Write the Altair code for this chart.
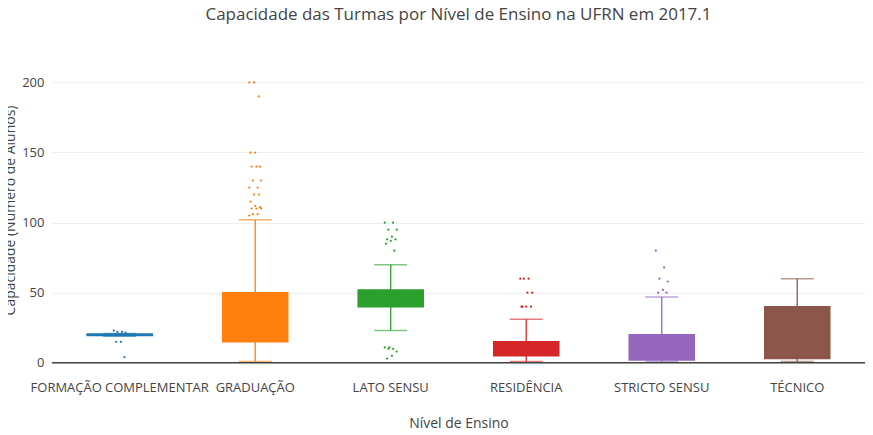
import pandas as pd
import altair as alt

niveis = ["FORMAÇÃO COMPLEMENTAR", "GRADUAÇÃO", "LATO SENSU", "RESIDÊNCIA", "STRICTO SENSU", "TÉCNICO"]
q1 = [19.5, 15, 40, 5, 2, 3]
mediana = [20, 32, 50, 8, 10, 39]
q3 = [20.5, 50, 52, 15, 20, 40]
min_bigode = [19, 1, 23, 1, 1, 1]
max_bigode = [21, 102, 70, 31, 47, 60]
linhas = ["#1f77b4", "#ff7f0e", "#2ca02c", "#d62728", "#9467bd", "#8c564b"]
preench = ["#8fbbd9", "#fec88e", "#94cfad", "#fd9a9a", "#e4b9fd", "#bcae7f"]

outliers = {
    "FORMAÇÃO COMPLEMENTAR": [23, 22, 22, 21.5, 15, 15, 4],
    "GRADUAÇÃO": [105, 106, 106, 110, 110, 110, 111, 112, 115, 120, 120, 125, 125, 130, 130, 140, 140, 140, 150, 150, 190, 200, 200],
    "LATO SENSU": [100, 100, 95, 95, 90, 88, 88, 87, 85, 80, 11, 11, 10, 10, 8, 5, 3],
    "RESIDÊNCIA": [60, 60, 60, 50, 50, 40, 40, 40, 40],
    "STRICTO SENSU": [80, 68, 60, 58, 52, 50, 50],
    "TÉCNICO": [],
}

caixas = pd.DataFrame({"nivel": niveis, "q1": q1, "mediana": mediana, "q3": q3,
                       "lo": min_bigode, "hi": max_bigode})
pontos = pd.DataFrame([
    {"nivel": k, "valor": v, "desloc": ((i * 7) % 11 - 5) * 2.2}
    for k, vs in outliers.items() for i, v in enumerate(vs)
])

cor_linha = alt.Color("nivel:N", scale=alt.Scale(domain=niveis, range=linhas), legend=None)
cor_fill = alt.Color("nivel:N", scale=alt.Scale(domain=niveis, range=preench), legend=None)
ydom = alt.Scale(domain=[-5, 223], nice=False, zero=False)
x = alt.X("nivel:N", sort=niveis, scale=alt.Scale(paddingInner=0.52, paddingOuter=0.26),
          title="Nível de Ensino",
          axis=alt.Axis(labelAngle=0, labelFontSize=13, labelColor="#444", titleFontSize=14,
                        titleColor="#444", titleFontWeight="normal", titlePadding=22,
                        ticks=False, domain=False, labelPadding=12))
y = alt.Y("lo:Q", scale=ydom, title="Capacidade (Número de Alunos)",
          axis=alt.Axis(values=[0, 50, 100, 150, 200], labelFontSize=13, labelColor="#444",
                        titleFontSize=14, titleColor="#444", titleFontWeight="normal",
                        gridColor="#eeeeee", ticks=False, domain=False, labelPadding=8))

base = alt.Chart(caixas)
bigode = base.mark_rule(strokeWidth=1.3).encode(x=x, y=y, y2="hi:Q", color=cor_linha)
caps_lo = base.mark_tick(size=33, thickness=1.5, opacity=0.6).encode(x=x, y="lo:Q", color=cor_linha)
caps_hi = base.mark_tick(size=33, thickness=1.5, opacity=0.6).encode(x=x, y="hi:Q", color=cor_linha)
caixa = base.mark_bar(strokeWidth=1.5).encode(x=x, y="q1:Q", y2="q3:Q", color=cor_fill,
                                              stroke=alt.Stroke("nivel:N", scale=alt.Scale(domain=niveis, range=linhas), legend=None))
med = base.mark_tick(thickness=1.5, size=66).encode(x=x, y="mediana:Q", color=cor_linha)
pts = alt.Chart(pontos).mark_circle(size=5, opacity=1).encode(
    x=alt.X("nivel:N", sort=niveis), xOffset=alt.XOffset("desloc:Q", scale=alt.Scale(domain=[-60, 60])),
    y=alt.Y("valor:Q", scale=ydom), color=cor_linha)
zero = alt.Chart(pd.DataFrame({"z": [0]})).mark_rule(color="#444", strokeWidth=1.5).encode(y=alt.Y("z:Q", scale=ydom))

chart = alt.layer(bigode, caps_lo, caps_hi, caixa, med, pts, zero).resolve_scale(
    xOffset="independent"
).properties(
    width=814, height=320,
    title=alt.TitleParams("Capacidade das Turmas por Nível de Ensino na UFRN em 2017.1",
                          fontSize=17, fontWeight="normal", color="#444", anchor="middle", offset=26),
    autosize=alt.AutoSizeParams(type="none"),
    padding={"left": 44, "top": 42, "right": 0, "bottom": 60},
).configure(font="Open Sans").configure_view(strokeWidth=0)

chart.save("out.html", embed_options={"renderer": "svg", "actions": False})
